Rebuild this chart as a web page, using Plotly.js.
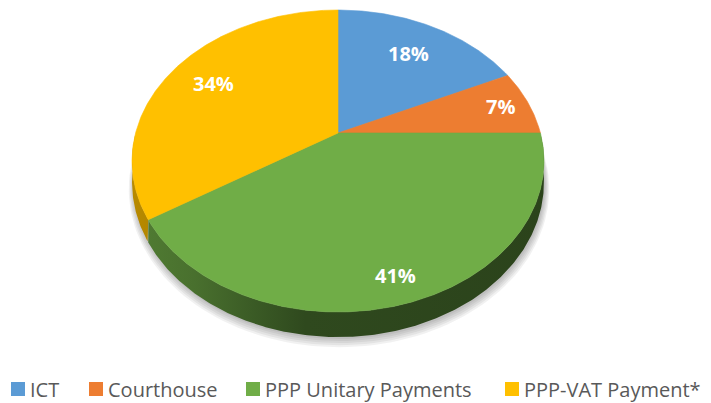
<!DOCTYPE html>
<html>
<head>
<meta charset="utf-8">
<script src="https://cdn.plot.ly/plotly-3.0.1.min.js"></script>
<style>html,body{margin:0;padding:0;background:#fff;}#chart{width:711px;height:403px;}</style>
</head>
<body>
<div id="chart"></div>
<script>
// ---- data ----
const categories = ['ICT', 'Courthouse', 'PPP Unitary Payments', 'PPP-VAT Payment*'];
const values = [18, 7, 41, 34];
const colors = ['#5B9BD5', '#ED7D31', '#70AD47', '#FFC000'];

// ---- geometry / style (pixels of the plot area) ----
const G = {cx: 338, cy: 133, R: 202.4, k: 0.1855, s: 145.8, h: 20.4};
const labelR = [0.72, 0.85, 0.86, 0.75];
const legendKeyX = [11, 89, 246, 505];
const legendY = 389;

function proj(r, deg, d) {
  const t = deg * Math.PI / 180;
  const X = r * Math.sin(t), Z = r * Math.cos(t);
  const den = 1 + G.k * Z;
  return [G.cx + G.R * X / den, G.cy - G.s * Z / den + G.h * d / den];
}
function hexRgb(h) { return [parseInt(h.slice(1,3),16), parseInt(h.slice(3,5),16), parseInt(h.slice(5,7),16)]; }
function shade(h, f) { const c = hexRgb(h).map(v => Math.round(v * f)); return 'rgb(' + c.join(',') + ')'; }

const total = values.reduce((a, b) => a + b, 0);
const starts = [], ends = [];
let acc = 0;
values.forEach(v => { starts.push(acc / total * 360); acc += v; ends.push(acc / total * 360); });

const traces = [];

// soft shadow under the pie
for (let L = 0; L < 5; L++) {
  const xs = [], ys = [];
  for (let a = 0; a <= 360; a += 2) { const p = proj(1 + L * 0.005, a, 1); xs.push(p[0] + 1); ys.push(p[1] + 2 + L * 0.9); }
  traces.push({type: 'scatter', mode: 'lines', x: xs, y: ys, fill: 'toself', fillcolor: 'rgba(0,0,0,0.055)',
    line: {width: 0}, hoverinfo: 'skip', showlegend: false});
}

// side walls (front half only), one piece per slice
const sideFrom = 90, sideTo = 270;
values.forEach((v, i) => {
  const a = Math.max(starts[i], sideFrom), b = Math.min(ends[i], sideTo);
  if (b <= a) return;
  const xs = [], ys = [];
  for (let t = a; t <= b + 1e-9; t += 0.5) { const p = proj(1, t, 0); xs.push(p[0]); ys.push(p[1]); }
  for (let t = b; t >= a - 1e-9; t -= 0.5) { const p = proj(1, t, 1); xs.push(p[0]); ys.push(p[1]); }
  const base = hexRgb(colors[i]);
  const sc = (f) => 'rgb(' + base.map(c => Math.round(c * f)).join(',') + ')';
  traces.push({type: 'scatter', mode: 'lines', x: xs, y: ys, fill: 'toself',
    fillgradient: {type: 'horizontal', start: 132, stop: 545,
      colorscale: [[0, sc(0.72)], [0.15, sc(0.65)], [0.3, sc(0.52)], [0.42, sc(0.42)], [1, sc(0.385)]]},
    line: {width: 0}, hoverinfo: 'skip', showlegend: false});
});

// top faces
values.forEach((v, i) => {
  const c = proj(0, 0, 0);
  const xs = [c[0]], ys = [c[1]];
  for (let t = starts[i]; t <= ends[i] + 1e-9; t += 0.5) { const p = proj(1, t, 0); xs.push(p[0]); ys.push(p[1]); }
  const pe = proj(1, ends[i], 0); xs.push(pe[0]); ys.push(pe[1]);
  xs.push(c[0]); ys.push(c[1]);
  traces.push({type: 'scatter', mode: 'lines', x: xs, y: ys, fill: 'toself', fillcolor: colors[i],
    line: {width: 0.6, color: colors[i]}, name: categories[i], hoverinfo: 'name', showlegend: false});
});

// data labels
const annotations = values.map((v, i) => {
  const mid = (starts[i] + ends[i]) / 2;
  const p = proj(labelR[i], mid, 0);
  return {x: p[0], y: p[1], xref: 'x', yref: 'y', text: Math.round(v / total * 100) + '%', showarrow: false,
    font: {family: 'Open Sans, Liberation Sans, sans-serif', size: 20, color: '#FFFFFF', weight: 'bold'}};
});

// legend (keys + texts)
const shapes = [];
categories.forEach((c, i) => {
  const x0 = legendKeyX[i];
  shapes.push({type: 'rect', xref: 'x', yref: 'y', x0: x0, x1: x0 + 14, y0: legendY - 7, y1: legendY + 7,
    fillcolor: colors[i], line: {width: 0}});
  annotations.push({x: x0 + 18, y: legendY, xref: 'x', yref: 'y', xanchor: 'left', yanchor: 'middle',
    text: c, showarrow: false, borderpad: 0,
    font: {family: 'Open Sans, Liberation Sans, sans-serif', size: 20, color: '#595959'}});
});

const layout = {
  width: 711, height: 403,
  margin: {l: 0, r: 0, t: 0, b: 0},
  paper_bgcolor: '#FFFFFF', plot_bgcolor: '#FFFFFF',
  xaxis: {range: [0, 711], visible: false, fixedrange: true},
  yaxis: {range: [403, 0], visible: false, fixedrange: true},
  showlegend: false,
  annotations: annotations,
  shapes: shapes
};

Plotly.newPlot('chart', traces, layout, {staticPlot: true, displayModeBar: false});
</script>
</body>
</html>
